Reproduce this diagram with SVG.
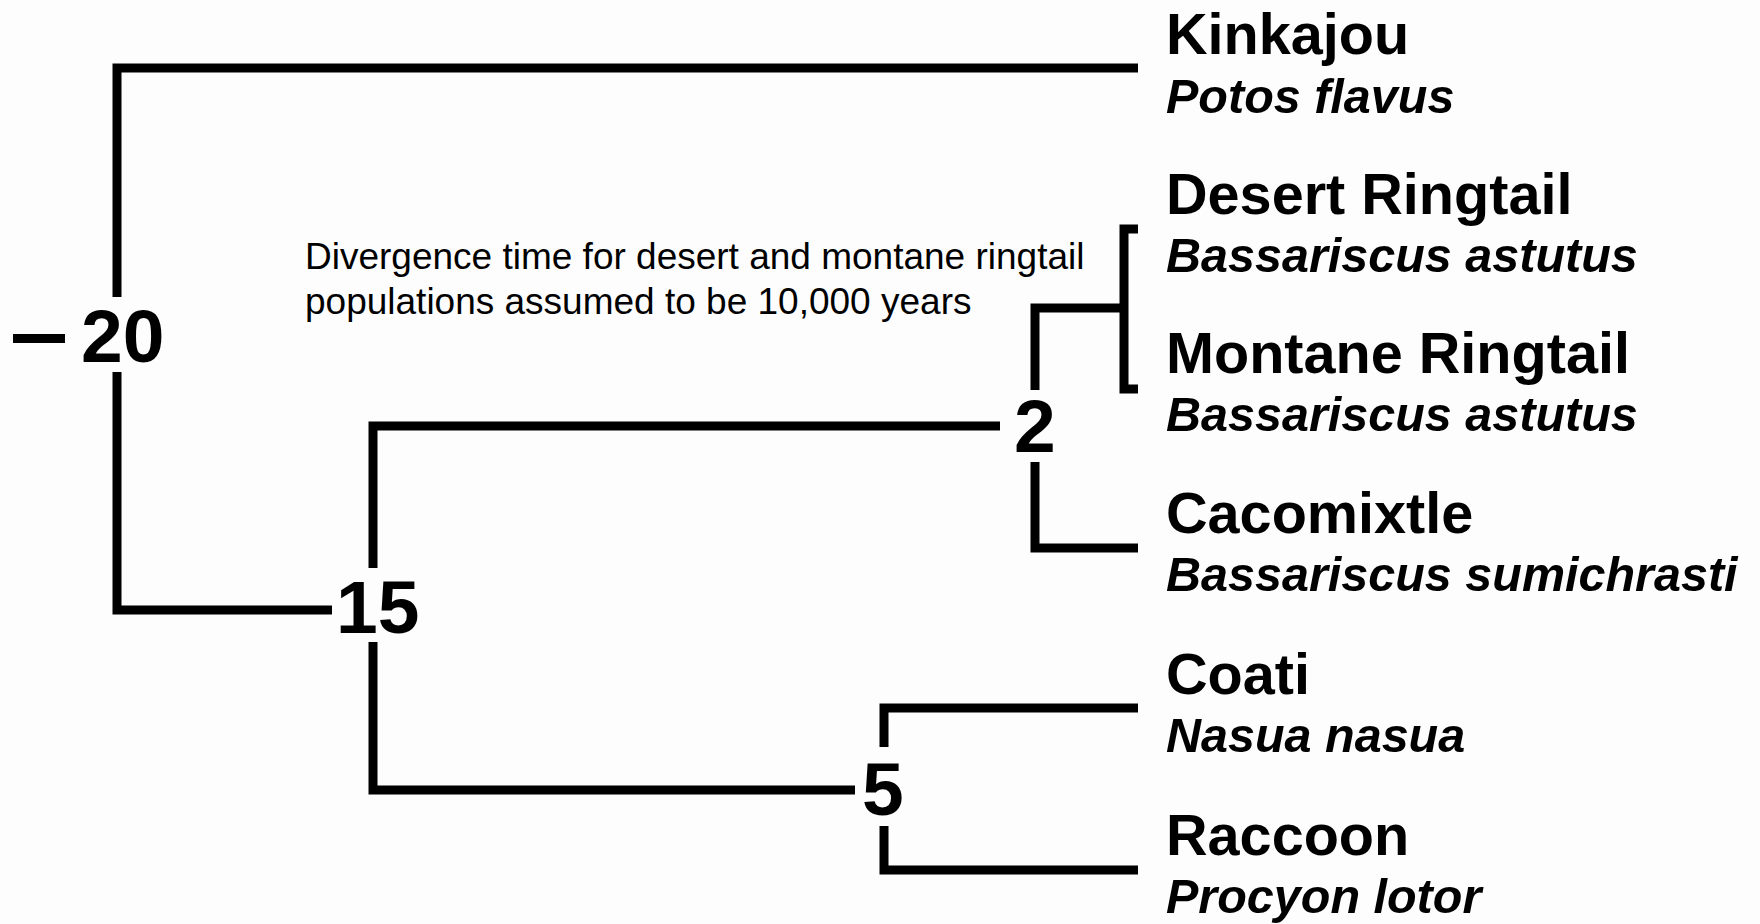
<svg xmlns="http://www.w3.org/2000/svg" width="1760" height="924" viewBox="0 0 1760 924">
<style>
.br{fill:none;stroke:#000;stroke-width:9;stroke-linejoin:miter;stroke-linecap:butt}
.nm{font-family:"Liberation Sans",Arial,sans-serif;font-weight:bold;font-size:57.6px;fill:#000}
.sp{font-family:"Liberation Sans",Arial,sans-serif;font-weight:bold;font-style:italic;font-size:48.5px;fill:#000}
.nd{font-family:"Liberation Sans",Arial,sans-serif;font-weight:bold;font-size:75px;fill:#000}
.an{font-family:"Liberation Sans",Arial,sans-serif;font-size:37px;fill:#000}
</style>
<rect width="1760" height="924" fill="#fdfdfd"/>
<g id="connectors">
<polyline class="br" points="1138,68 117,68 117,297"/>
<polyline class="br" points="117,372 117,610 332,610"/>
<polyline class="br" points="373,568 373,426 1000,426"/>
<polyline class="br" points="373,642 373,790 855,790"/>
<polyline class="br" points="1035,390 1035,308 1124,308"/>
<polyline class="br" points="1035,462 1035,548 1138,548"/>
<polyline class="br" points="1138,229 1124,229 1124,389 1138,389"/>
<polyline class="br" points="884,747 884,708 1138,708"/>
<polyline class="br" points="884,826 884,870 1138,870"/>
</g>
<g id="node-20"><rect x="13" y="334" width="52" height="9" fill="#000"/><text class="nd" x="81" y="362">20</text></g>
<g id="node-15"><text class="nd" x="336" y="633">15</text></g>
<g id="node-2"><text class="nd" x="1014" y="452">2</text></g>
<g id="node-5"><text class="nd" x="862" y="815">5</text></g>
<g id="note"><text class="an" x="305" y="269">Divergence time for desert and montane ringtail</text><text class="an" x="305" y="314">populations assumed to be 10,000 years</text></g>
<g id="kinkajou"><text class="nm" x="1166" y="54">Kinkajou</text><text class="sp" x="1166" y="113">Potos flavus</text></g>
<g id="desert-ringtail"><text class="nm" x="1166" y="214">Desert Ringtail</text><text class="sp" x="1166" y="272">Bassariscus astutus</text></g>
<g id="montane-ringtail"><text class="nm" x="1166" y="373">Montane Ringtail</text><text class="sp" x="1166" y="431">Bassariscus astutus</text></g>
<g id="cacomixtle"><text class="nm" x="1166" y="533">Cacomixtle</text><text class="sp" x="1166" y="591">Bassariscus sumichrasti</text></g>
<g id="coati"><text class="nm" x="1166" y="694">Coati</text><text class="sp" x="1166" y="752">Nasua nasua</text></g>
<g id="raccoon"><text class="nm" x="1166" y="855">Raccoon</text><text class="sp" x="1166" y="913">Procyon lotor</text></g>
</svg>
